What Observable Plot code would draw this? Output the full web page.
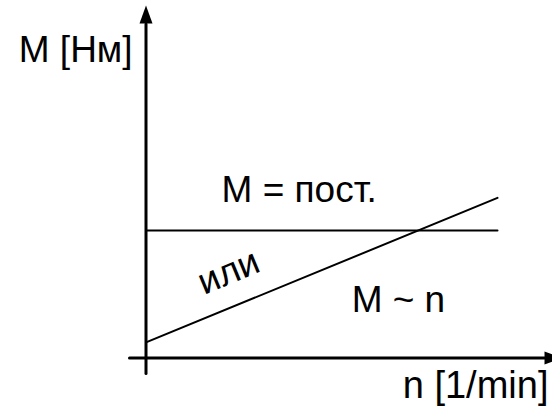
<!DOCTYPE html>
<html>
<head>
<meta charset="utf-8">
<script src="https://cdn.jsdelivr.net/npm/d3@7"></script>
<script src="https://cdn.jsdelivr.net/npm/@observablehq/plot@0.6"></script>
<style>
  html, body { margin: 0; padding: 0; background: #fff; overflow: hidden; }
</style>
</head>
<body>
<div id="chart"></div>
<script>
// Schematic data (abstract units: n speed, M torque)
const nRange = [0, 10];                 // extent of the two characteristic lines
const constM = [10, 10];                // M = const
const propM = [1.22, 12.56];            // M ~ n
const nAxisExtent = [-0.47, 11.34];     // horizontal axis line
const nAxisTip = 11.85;
const mAxisExtent = [-1.22, 26.2];      // vertical axis line
const mAxisTip = 27.65;

const labelTexts = ["M [Нм]", "n [1/min]", "M = пост.", "M ~ n", "или"];
const labelN = [-3.62, 11.45, 2.15, 5.85, 2.35];
const labelM = [23.25, -3.1, 12.2, 3.57, 6.75];

const constLine = nRange.map((n, i) => ({n, M: constM[i]}));
const propLine = nRange.map((n, i) => ({n, M: propM[i]}));
const hAxis = nAxisExtent.map(n => ({n, M: 0}));
const vAxis = mAxisExtent.map(M => ({n: 0, M}));
const tips = [{n: nAxisTip, M: 0, rot: 90}, {n: 0, M: mAxisTip, rot: 0}];
const labels = labelTexts.map((t, i) => ({t, n: labelN[i], M: labelM[i]}));

// arrowhead symbol: tip at origin, pointing up
const arrowHead = {
  draw(context, size) {
    context.moveTo(0, 0);
    context.lineTo(6.5, 18);
    context.lineTo(-6.5, 18);
    context.closePath();
  }
};

const font = "'Liberation Sans', Arial, sans-serif";
const base = {x: "n", y: "M", fontSize: 37, fill: "black", fontFamily: font};

const chart = Plot.plot({
  width: 552,
  height: 406,
  margin: 0,
  x: {domain: [0, 10], range: [145.5, 497], axis: null},
  y: {domain: [0, 10], range: [357.5, 230], axis: null},
  style: {background: "white", overflow: "hidden", fontFamily: font},
  marks: [
    Plot.line(constLine, {x: "n", y: "M", stroke: "black", strokeWidth: 2}),
    Plot.line(propLine, {x: "n", y: "M", stroke: "black", strokeWidth: 2}),
    Plot.line(hAxis, {x: "n", y: "M", stroke: "black", strokeWidth: 3}),
    Plot.line(vAxis, {x: "n", y: "M", stroke: "black", strokeWidth: 3}),
    Plot.dot(tips, {x: "n", y: "M", symbol: arrowHead, rotate: "rot", fill: "black", stroke: "none", r: 5}),
    Plot.text(labels.filter(d => d.t === "M [Нм]"), {...base, text: "t", textAnchor: "start", lineAnchor: "bottom"}),
    Plot.text(labels.filter(d => d.t === "n [1/min]"), {...base, fontSize: 38, text: "t", textAnchor: "end", lineAnchor: "bottom"}),
    Plot.text(labels.filter(d => d.t === "M = пост." || d.t === "M ~ n"), {...base, text: "t", textAnchor: "start", lineAnchor: "bottom"}),
    Plot.text(labels.filter(d => d.t === "или"), {...base, text: "t", textAnchor: "middle", lineAnchor: "middle", rotate: -22.5})
  ]
});
document.getElementById("chart").appendChild(chart);
</script>
</body>
</html>
